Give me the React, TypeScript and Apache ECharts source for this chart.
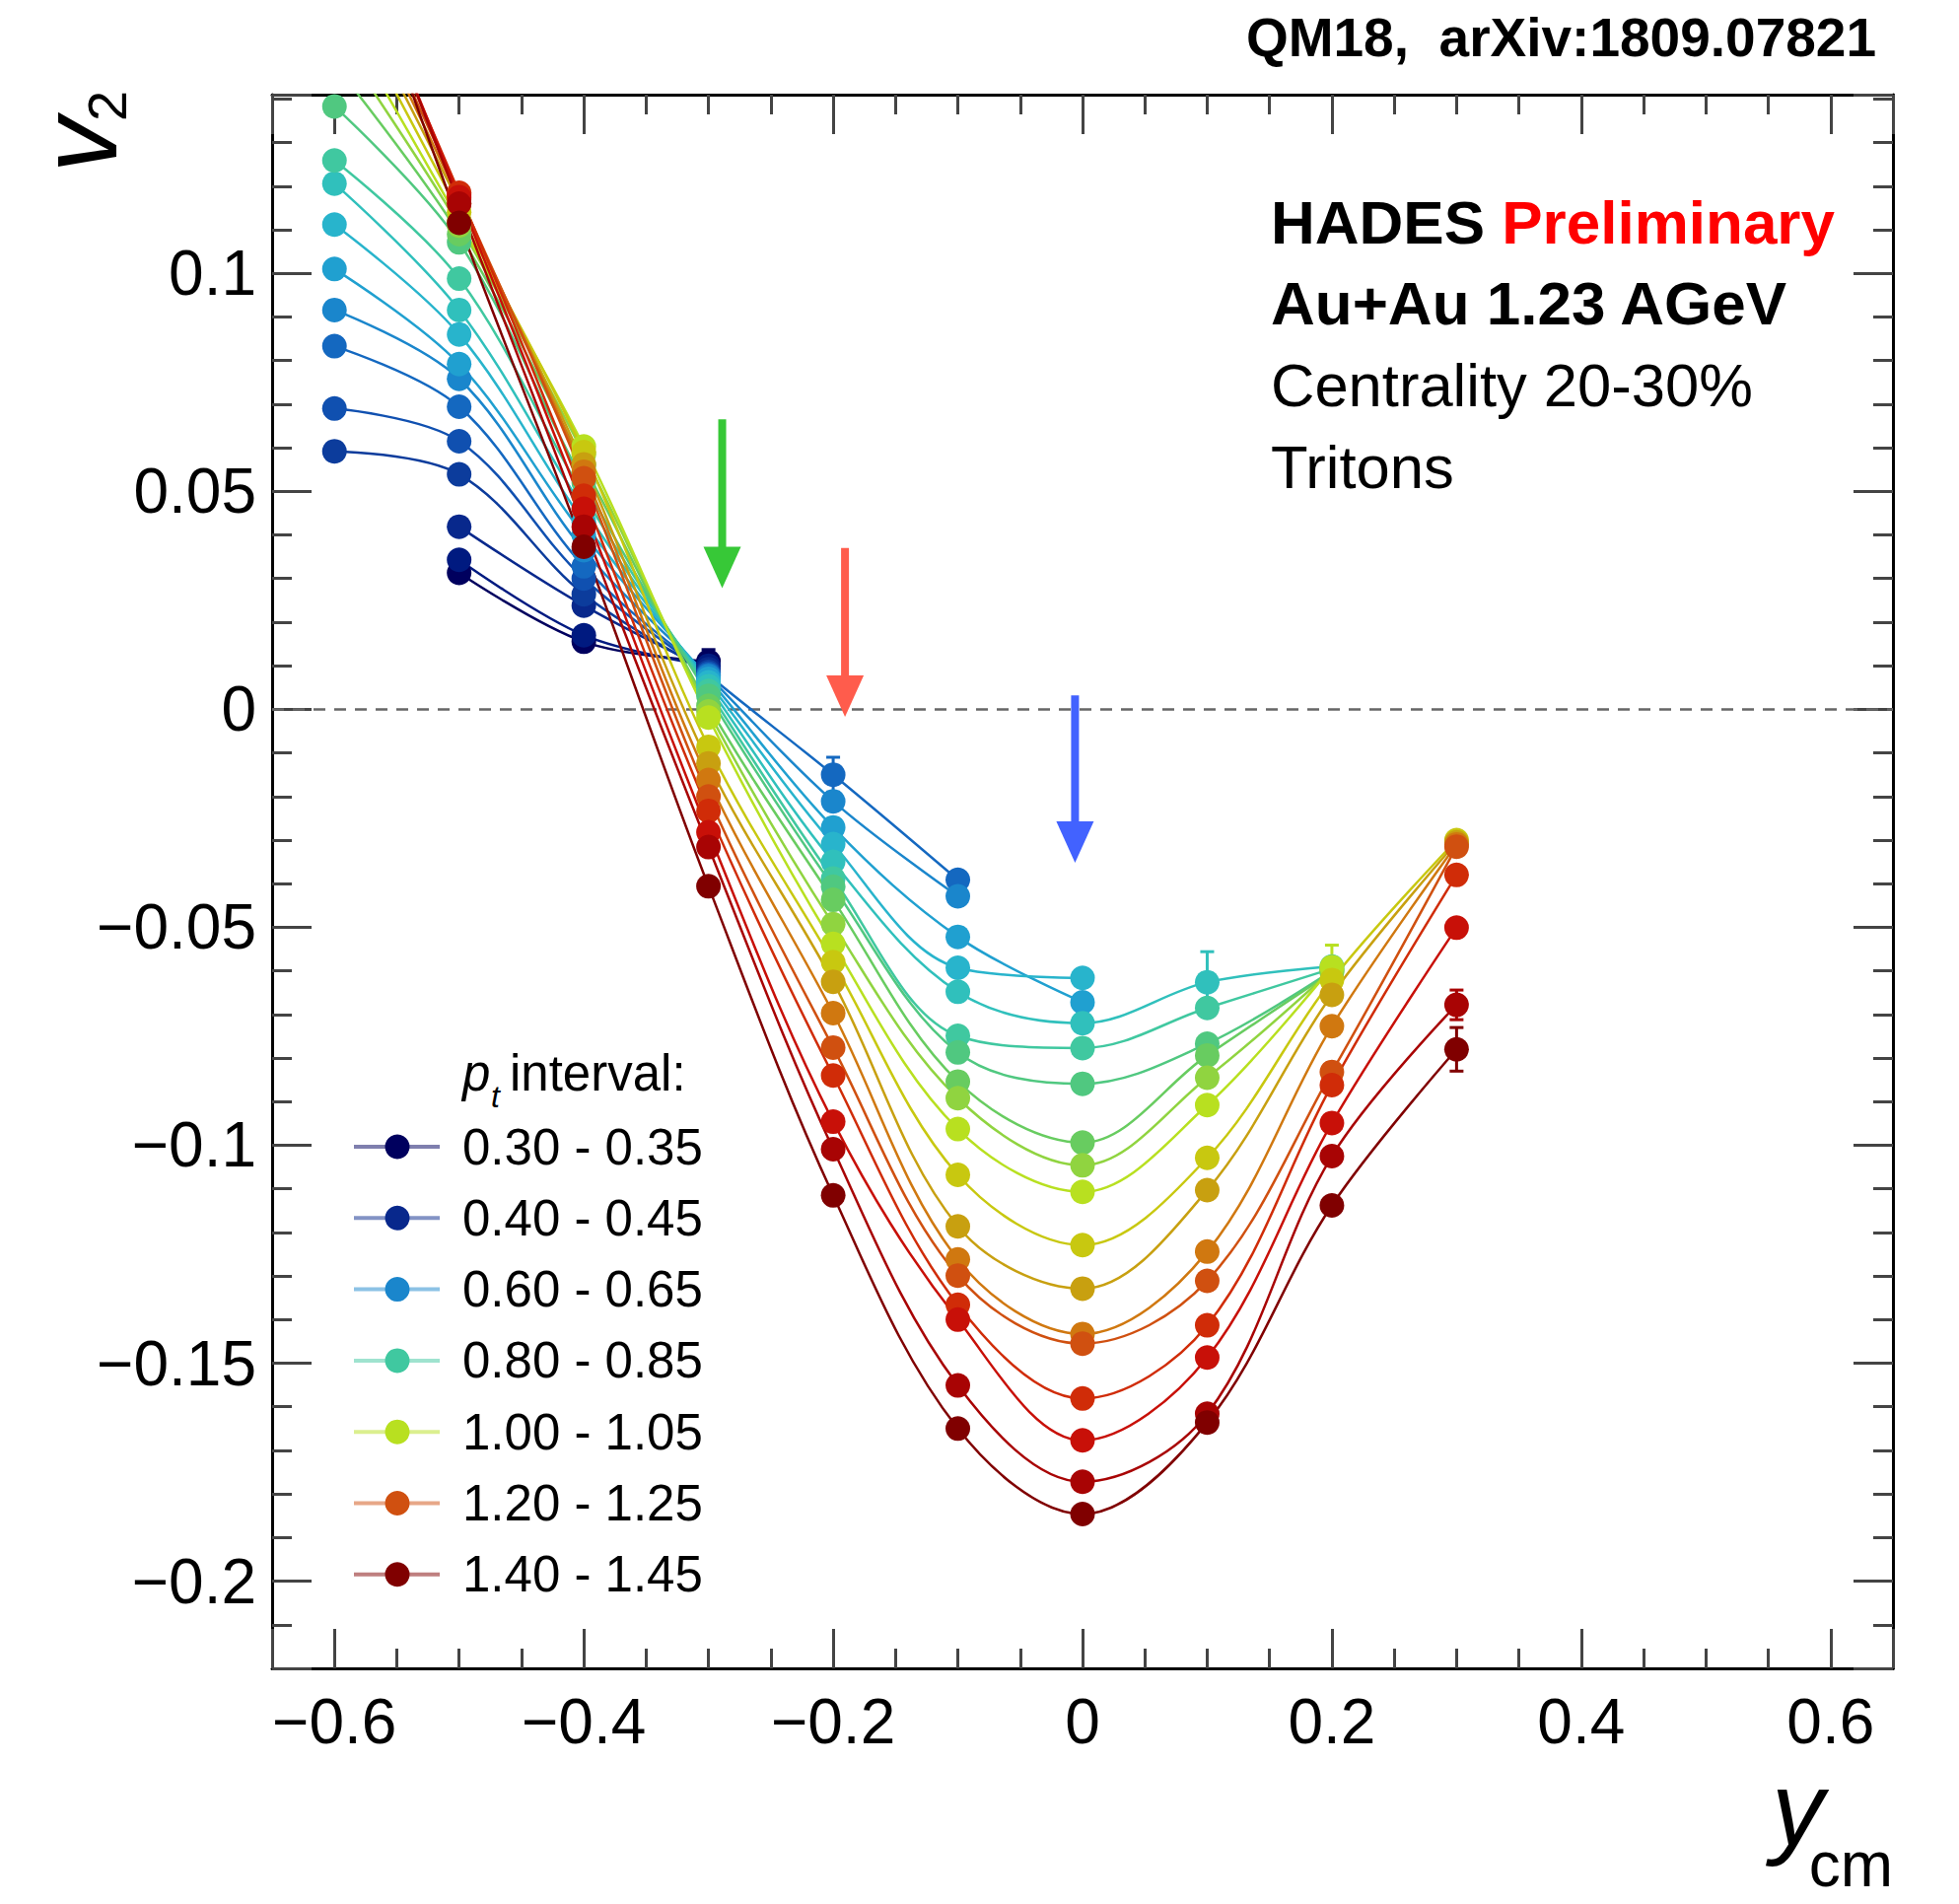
import React, { useEffect, useRef } from "react";
import * as echarts from "echarts";

// ---------- data ----------
const RAPIDITY = [-0.6, -0.5, -0.4, -0.3, -0.2, -0.1, 0, 0.1, 0.2, 0.3];

const PT_BINS = [
  "0.30 - 0.35", "0.35 - 0.40", "0.40 - 0.45", "0.45 - 0.50", "0.50 - 0.55",
  "0.55 - 0.60", "0.60 - 0.65", "0.65 - 0.70", "0.70 - 0.75", "0.75 - 0.80",
  "0.80 - 0.85", "0.85 - 0.90", "0.90 - 0.95", "0.95 - 1.00", "1.00 - 1.05",
  "1.05 - 1.10", "1.10 - 1.15", "1.15 - 1.20", "1.20 - 1.25", "1.25 - 1.30",
  "1.30 - 1.35", "1.35 - 1.40", "1.40 - 1.45",
];

const COLORS = [
  "#00005e", "#001a80", "#08288c", "#0c3c9c", "#1050b0", "#1468c0", "#1a86cc",
  "#20a0d0", "#28b4cc", "#30c0bc", "#40c8a0", "#50c880", "#68cc60", "#90d440",
  "#b8e020", "#c8c810", "#c8a010", "#d07810", "#d05010", "#d02c08", "#c81008",
  "#a80404", "#800000",
];

const v2_030 = [null, 0.0313, 0.0155, 0.011, null, null, null, null, null, null];
const v2_035 = [null, 0.0343, 0.017, 0.01, null, null, null, null, null, null];
const v2_040 = [null, 0.0419, 0.0238, 0.0092, null, null, null, null, null, null];
const v2_045 = [0.0592, 0.0539, 0.0264, 0.0086, null, null, null, null, null, null];
const v2_050 = [0.069, 0.0615, 0.03, 0.0082, null, null, null, null, null, null];
const v2_055 = [0.0833, 0.0694, 0.0328, 0.0079, -0.015, -0.0391, null, null, null, null];
const v2_060 = [0.0916, 0.0758, 0.0365, 0.0076, -0.0211, -0.0429, null, null, null, null];
const v2_065 = [0.101, 0.0792, 0.04, 0.007, -0.0271, -0.0522, -0.0672, null, null, null];
const v2_070 = [0.1112, 0.086, 0.043, 0.0062, -0.0309, -0.0593, -0.0616, null, null, null];
const v2_075 = [0.1206, 0.0916, 0.046, 0.0053, -0.035, -0.0648, -0.072, -0.0626, -0.059, null];
const v2_080 = [0.1259, 0.0988, 0.049, 0.0042, -0.0388, -0.0749, -0.0777, -0.0685, -0.0595, null];
const v2_085 = [0.1383, 0.1071, 0.052, 0.0031, -0.0407, -0.0787, -0.0859, -0.0767, -0.06, null];
const v2_090 = [0.148, 0.109, 0.056, 0.0008, -0.0437, -0.0854, -0.0994, -0.0794, -0.0603, null];
const v2_095 = [0.155, 0.111, 0.0585, -0.0005, -0.0493, -0.0892, -0.1046, -0.0845, -0.0598, null];
const v2_100 = [0.162, 0.112, 0.0603, -0.0019, -0.0538, -0.0963, -0.1107, -0.0908, -0.0591, null];
const v2_105 = [0.168, 0.114, 0.059, -0.0086, -0.058, -0.1068, -0.1229, -0.1029, -0.0621, -0.03];
const v2_110 = [0.172, 0.116, 0.0562, -0.0124, -0.0625, -0.1186, -0.1329, -0.1103, -0.0655, -0.0305];
const v2_115 = [0.176, 0.117, 0.0545, -0.0162, -0.0697, -0.1262, -0.1433, -0.1244, -0.0727, -0.031];
const v2_120 = [0.18, 0.118, 0.053, -0.02, -0.0776, -0.1299, -0.1455, -0.1311, -0.0832, -0.0315];
const v2_125 = [0.184, 0.1185, 0.049, -0.0233, -0.084, -0.1366, -0.1581, -0.1413, -0.0862, -0.038];
const v2_130 = [0.188, 0.1175, 0.046, -0.0282, -0.0946, -0.14, -0.1677, -0.1487, -0.0949, -0.0501];
const v2_135 = [0.19, 0.116, 0.0419, -0.0316, -0.1009, -0.1551, -0.1772, -0.1616, -0.1025, -0.0678];
const v2_140 = [0.192, 0.1116, 0.0373, -0.0406, -0.1115, -0.165, -0.1846, -0.1636, -0.1138, -0.078];

const SERIES_VALUES = [
  v2_030, v2_035, v2_040, v2_045, v2_050, v2_055, v2_060, v2_065, v2_070, v2_075,
  v2_080, v2_085, v2_090, v2_095, v2_100, v2_105, v2_110, v2_115, v2_120, v2_125,
  v2_130, v2_135, v2_140,
];

const LEGEND_BINS = [0, 2, 6, 10, 14, 18, 22];

// error bars: [rapidity, v2, error, series index]
const ERROR_BARS = [
  [-0.3, 0.011, 0.0027, 0],
  [-0.2, -0.015, 0.004, 5],
  [0.1, -0.0626, 0.007, 9],
  [0.2, -0.0591, 0.005, 14],
  [0.3, -0.0678, 0.0034, 21],
  [0.3, -0.078, 0.005, 22],
];

// arrows: [rapidity, v2 top, v2 tip]
const ARROWS = [
  [-0.289, 0.0665, 0.0278],
  [-0.1905, 0.037, -0.0017],
  [-0.006, 0.0032, -0.0352],
];
const ARROW_COLORS = ["#37c837", "#ff5c4c", "#4262ff"];

const X_MIN = -0.65, X_MAX = 0.65;
const Y_MIN = -0.22, Y_MAX = 0.141;

const FONT = '"Liberation Sans", Arial, Helvetica, sans-serif';

function fmt(v: number) {
  const s = String(parseFloat(v.toFixed(4)));
  return s.startsWith("-") ? "\u2212" + s.slice(1) : s;
}

export default function App() {
  const ref = useRef<HTMLDivElement>(null);

  useEffect(() => {
    document.body.style.margin = "0";
    const chart = echarts.init(ref.current!, null, { renderer: "svg" });

    const grid = { left: 276, right: 67, top: 96, bottom: 239 };

    const axisCommonX = {
      type: "value",
      min: X_MIN,
      max: X_MAX,
      splitNumber: 6,
      minInterval: 0.2,
      maxInterval: 0.2,
      splitLine: { show: false },
      axisLine: { show: true, onZero: false, lineStyle: { color: "#000", width: 3 } },
      axisTick: { show: true, inside: true, length: 40, lineStyle: { color: "#444", width: 3 } },
      minorTick: { show: true, splitNumber: 4, length: 20, lineStyle: { color: "#444", width: 3 } },
    };
    const axisCommonY = {
      type: "value",
      min: Y_MIN,
      max: Y_MAX,
      splitNumber: 7,
      minInterval: 0.05,
      maxInterval: 0.05,
      splitLine: { show: false },
      axisLine: { show: true, onZero: false, lineStyle: { color: "#000", width: 3 } },
      axisTick: { show: true, inside: true, length: 40, lineStyle: { color: "#444", width: 3 } },
      minorTick: { show: true, splitNumber: 5, length: 20, lineStyle: { color: "#444", width: 3 } },
    };

    const lineSeries = SERIES_VALUES.map((vals, i) => ({
      name: PT_BINS[i],
      type: "line",
      data: RAPIDITY.map((x, j) => (vals[j] == null ? null : [x, vals[j]])).filter(
        (d) => d !== null
      ),
      smooth: 0.35,
      symbol: "circle",
      symbolSize: 25,
      showAllSymbol: true,
      clip: true,
      lineStyle: { width: 2.5, color: COLORS[i] },
      itemStyle: { color: COLORS[i] },
      emphasis: { disabled: true },
      z: 3,
      markLine:
        i === 0
          ? {
              silent: true,
              symbol: ["none", "none"],
              label: { show: false },
              lineStyle: { type: [12, 9], color: "#666", width: 2.5 },
              data: [{ yAxis: 0 }],
              z: 1,
            }
          : undefined,
    }));

    const errorSeries = {
      type: "custom",
      z: 2,
      data: ERROR_BARS.map((e) => [e[0], e[1] - e[2], e[1] + e[2], e[3]]),
      encode: { x: 0, y: [1, 2] },
      renderItem: (params: any, api: any) => {
        const x = api.value(0);
        const lo = api.coord([x, api.value(1)]);
        const hi = api.coord([x, api.value(2)]);
        const c = COLORS[api.value(3)];
        const cap = 7;
        return {
          type: "group",
          children: [
            { type: "line", shape: { x1: lo[0], y1: lo[1], x2: hi[0], y2: hi[1] }, style: { stroke: c, lineWidth: 3 } },
            { type: "line", shape: { x1: lo[0] - cap, y1: lo[1], x2: lo[0] + cap, y2: lo[1] }, style: { stroke: c, lineWidth: 3 } },
            { type: "line", shape: { x1: hi[0] - cap, y1: hi[1], x2: hi[0] + cap, y2: hi[1] }, style: { stroke: c, lineWidth: 3 } },
          ],
        };
      },
    };

    const arrowSeries = {
      type: "custom",
      z: 10,
      clip: false,
      data: ARROWS,
      encode: { x: 0, y: [1, 2] },
      renderItem: (params: any, api: any) => {
        const x = api.value(0);
        const p0 = api.coord([x, api.value(1)]);
        const p1 = api.coord([x, api.value(2)]);
        const color = ARROW_COLORS[params.dataIndex];
        const headLen = 42, headW = 38, shaftW = 8;
        return {
          type: "group",
          children: [
            {
              type: "rect",
              shape: { x: p0[0] - shaftW / 2, y: p0[1], width: shaftW, height: p1[1] - headLen - p0[1] + 2 },
              style: { fill: color },
            },
            {
              type: "polygon",
              shape: {
                points: [
                  [p1[0] - headW / 2, p1[1] - headLen],
                  [p1[0] + headW / 2, p1[1] - headLen],
                  [p1[0], p1[1]],
                ],
              },
              style: { fill: color },
            },
          ],
        };
      },
    };

    // legend drawn as graphic
    const legendX0 = 359, legendX1 = 446, legendMarker = 403, legendText = 469;
    const legendTop = 1163, legendStep = 72.3;
    const legendEls: any[] = [];
    LEGEND_BINS.forEach((bin, k) => {
      const y = legendTop + k * legendStep;
      legendEls.push({
        type: "line",
        shape: { x1: legendX0, y1: y, x2: legendX1, y2: y },
        style: { stroke: COLORS[bin], lineWidth: 4, opacity: 0.5 },
      });
      legendEls.push({
        type: "circle",
        shape: { cx: legendMarker, cy: y, r: 12.5 },
        style: { fill: COLORS[bin] },
      });
      legendEls.push({
        type: "text",
        x: legendText,
        y: y,
        style: {
          text: PT_BINS[bin],
          font: `51px ${FONT}`,
          fill: "#000",
          textAlign: "left",
          textVerticalAlign: "middle",
        },
      });
    });

    const option: any = {
      animation: false,
      backgroundColor: "#fff",
      grid,
      xAxis: [
        {
          ...axisCommonX,
          position: "bottom",
          axisLabel: {
            show: true,
            showMinLabel: false,
            showMaxLabel: false,
            margin: 22,
            fontSize: 64,
            color: "#000",
            fontFamily: FONT,
            formatter: fmt,
          },
        },
        { ...axisCommonX, position: "top", axisLabel: { show: false } },
      ],
      yAxis: [
        {
          ...axisCommonY,
          position: "left",
          axisLabel: {
            show: true,
            showMinLabel: false,
            showMaxLabel: false,
            margin: 16,
            fontSize: 64,
            color: "#000",
            fontFamily: FONT,
            formatter: fmt,
          },
        },
        { ...axisCommonY, position: "right", axisLabel: { show: false } },
      ],
      series: [...lineSeries, errorSeries, arrowSeries],
      graphic: [
        // top-right reference
        {
          type: "text",
          x: 1903,
          y: 38,
          style: {
            text: "QM18,  arXiv:1809.07821",
            font: `bold 55px ${FONT}`,
            fill: "#000",
            textAlign: "right",
            textVerticalAlign: "middle",
          },
        },
        {
          type: "text",
          x: 1289,
          y: 225,
          style: {
            text: "{b|HADES }{r|Preliminary}",
            textAlign: "left",
            textVerticalAlign: "middle",
            rich: {
              b: { font: `bold 62px ${FONT}`, fill: "#000" },
              r: { font: `bold 62px ${FONT}`, fill: "#ff0000" },
            },
          },
        },
        {
          type: "text",
          x: 1289,
          y: 307,
          style: { text: "Au+Au 1.23 AGeV", font: `bold 62px ${FONT}`, fill: "#000", textAlign: "left", textVerticalAlign: "middle" },
        },
        {
          type: "text",
          x: 1289,
          y: 390,
          style: { text: "Centrality 20-30%", font: `61.5px ${FONT}`, fill: "#000", textAlign: "left", textVerticalAlign: "middle" },
        },
        {
          type: "text",
          x: 1289,
          y: 473,
          style: { text: "Tritons", font: `61.5px ${FONT}`, fill: "#000", textAlign: "left", textVerticalAlign: "middle" },
        },
        // y axis title (rotated)
        {
          type: "group",
          x: 79,
          y: 175,
          rotation: Math.PI / 2,
          children: [
            {
              type: "text",
              x: 0,
              y: 0,
              style: { text: "v", font: `italic 112px ${FONT}`, fill: "#000", textAlign: "left", textVerticalAlign: "middle" },
            },
            {
              type: "text",
              x: 52,
              y: 29,
              style: { text: "2", font: `56px ${FONT}`, fill: "#000", textAlign: "left", textVerticalAlign: "middle" },
            },
          ],
        },
        // x axis title
        {
          type: "text",
          x: 1797,
          y: 1834,
          style: { text: "y", font: `italic 106px ${FONT}`, fill: "#000", textAlign: "left", textVerticalAlign: "middle" },
        },
        {
          type: "text",
          x: 1920,
          y: 1891,
          style: { text: "cm", font: `64px ${FONT}`, fill: "#000", textAlign: "right", textVerticalAlign: "middle" },
        },
        // legend header
        {
          type: "text",
          x: 469,
          y: 1088,
          style: { text: "p", font: `italic 51px ${FONT}`, fill: "#000", textAlign: "left", textVerticalAlign: "middle" },
        },
        {
          type: "text",
          x: 498,
          y: 1112,
          style: { text: "t", font: `italic 32px ${FONT}`, fill: "#000", textAlign: "left", textVerticalAlign: "middle" },
        },
        {
          type: "text",
          x: 517,
          y: 1088,
          style: { text: "interval:", font: `51px ${FONT}`, fill: "#000", textAlign: "left", textVerticalAlign: "middle" },
        },
        ...legendEls,
      ],
    };

    chart.setOption(option);
    return () => chart.dispose();
  }, []);

  return <div ref={ref} style={{ width: 1987, height: 1931 }} />;
}
